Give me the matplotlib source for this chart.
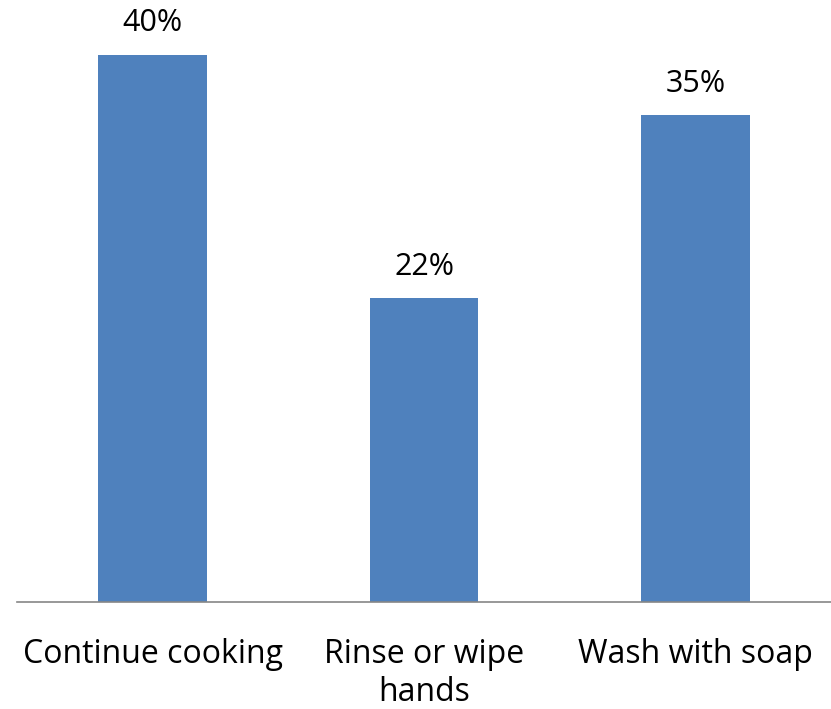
import numpy as np
import matplotlib.pyplot as plt

categories = ['Continue cooking', 'Rinse or wipe\nhands', 'Wash with soap']
shares = [0.398, 0.221, 0.354]
labels = ['40%', '22%', '35%']

plt.rcParams['font.family'] = ['Open Sans', 'DejaVu Sans']

fig = plt.figure(figsize=(8.31, 7.09), dpi=100)
ax = fig.add_axes([17 / 831, 1 - 602 / 709, 814 / 831, 602 / 709])

x = np.arange(len(categories))
bars = ax.bar(x, shares, width=0.4, color='#4F81BD')

for b, lab in zip(bars, labels):
    ax.annotate(lab, (b.get_x() + b.get_width() / 2, b.get_height()),
                xytext=(0, 12), textcoords='offset points',
                ha='center', va='bottom', fontsize=22)

ax.set_xlim(-0.5, 2.5)
ax.set_ylim(0, 0.438)
ax.set_yticks([])
ax.set_xticks(x)
ax.set_xticklabels(categories, fontsize=23, linespacing=1.2)
ax.tick_params(axis='x', length=0, pad=26)

for side in ['top', 'right', 'left']:
    ax.spines[side].set_visible(False)
ax.spines['bottom'].set_color('#868686')
ax.spines['bottom'].set_linewidth(1.2)

fig.savefig('out.png', dpi=100)
